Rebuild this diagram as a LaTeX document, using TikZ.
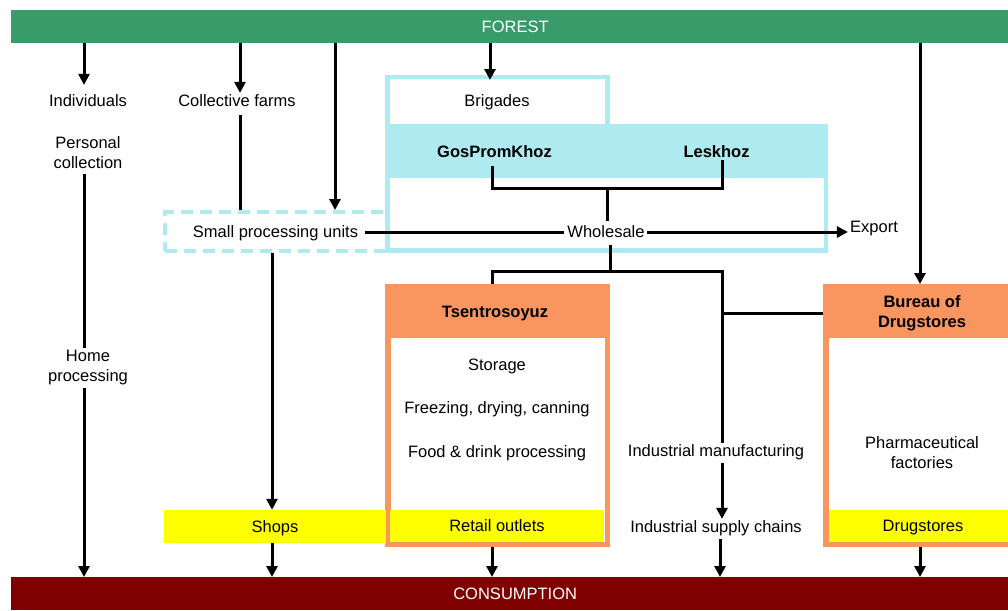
\documentclass[tikz,border=0pt]{standalone}
\usepackage{fontspec}
\setmainfont{Liberation Sans}
\usetikzlibrary{arrows.meta,calc}
\definecolor{forestg}{HTML}{389B6A}
\definecolor{consred}{HTML}{7F0000}
\definecolor{cyanb}{HTML}{AEEAF0}
\definecolor{orangeb}{HTML}{F9955F}
\definecolor{yellowb}{HTML}{FFFF00}
\begin{document}
\begin{tikzpicture}[x=1pt,y=-1pt,
 mtxt/.style={font=\fontsize{16.5}{20}\selectfont, inner sep=2pt, align=center},
 txt/.style={mtxt, text height=11.8pt, text depth=0pt},
 boldtxt/.style={txt, font=\fontsize{16.5}{20}\selectfont\bfseries},
 mbold/.style={mtxt, font=\fontsize{16.5}{20}\selectfont\bfseries},
 bar/.style={txt, text=white, minimum height=33pt, inner sep=0pt, anchor=north west, minimum width=1008pt},
 ybar/.style={txt, fill=yellowb, inner sep=0pt},
 ln/.style={line width=3pt},
 arr/.style={ln, -{Triangle[length=11pt,width=11pt]}},
 cbox/.style={draw=orangeb, line width=5.5pt, inner sep=0pt},
]
\useasboundingbox (0,0) rectangle (1008,610);
\clip (0,0) rectangle (1008,610);

% bars
\node[bar, fill=forestg] (forest) at (11,10) {FOREST};
\node[bar, fill=consred] (cons) at (11,577) {CONSUMPTION};

% dashed small processing box
\node[draw=cyanb, line width=4pt, dash pattern=on 12pt off 7pt, minimum width=222.5pt, minimum height=38.5pt, inner sep=0pt] (spubox) at (276.25,231.25) {};

% cyan organisation box
\fill[cyanb] (385.5,124) rectangle (828,178);
\draw[cyanb, line width=4.5pt] (387.5,77) -- (607.5,77) -- (607.5,126) -- (825.8,126) -- (825.8,250.5) -- (387.5,250.5) -- cycle;
\coordinate (cyantop) at (490,80);

% Tsentrosoyuz box
\fill[orangeb] (385,284) rectangle (610,338);
\node[cbox, minimum width=219.5pt, minimum height=257.5pt] (tsbox) at (497.5,415.5) {};
% Bureau box
\fill[orangeb] (823,284) rectangle (1008,338);
\node[cbox, line width=6pt, minimum width=204pt, minimum height=256.5pt] (bubox) at (928,415.25) {};

% yellow bands
\node[ybar, minimum width=222pt, minimum height=33pt] (shops) at (275,526.5) {Shops};
\node[ybar, minimum width=214pt, minimum height=32pt] (retail) at (497,526) {Retail outlets};
\node[ybar, minimum width=188pt, minimum height=32pt] (drug) at (923,526) {Drugstores};

% texts
\node[txt] (ind) at (88,101) {Individuals};
\node[mtxt] (pers) at (88,153) {Personal\\collection};
\node[mtxt] (home) at (88,368) {Home\\processing};
\node[txt] (coll) at (237,101) {Collective farms};
\node[txt] (spu) at (275.5,232) {Small processing units};
\node[txt] (brig) at (497,101) {Brigades};
\node[boldtxt] (gos) at (494.5,152) {GosPromKhoz};
\node[boldtxt] (les) at (716.5,152) {Leskhoz};
\node[txt] (wh) at (606,232) {Wholesale};
\node[txt] (exp) at (874,227) {Export};
\node[boldtxt] (ts) at (495,312) {Tsentrosoyuz};
\node[txt] (stor) at (497,365) {Storage};
\node[txt] (freez) at (497,408) {Freezing, drying, canning};
\node[txt] (food) at (497,452) {Food \& drink processing};
\node[txt] (indman) at (716,451) {Industrial manufacturing};
\node[txt] (indsup) at (716,527) {Industrial supply chains};
\node[mbold] (bur) at (922,313) {Bureau of\\Drugstores};
\node[mtxt] (pharm) at (922,453) {Pharmaceutical\\factories};

% connectors from forest
\draw[arr, shorten >=8pt] (forest.south -| 84,0) -- (ind.north -| 84,0);
\draw[arr] (forest.south -| 240,0) -- (coll.north -| 240,0);
\draw[arr] (forest.south -| 335,0) -- (spubox.north -| 335,0);
\draw[arr] (forest.south -| 490,0) -- (cyantop);
\draw[arr] (forest.south -| 920,0) -- (bubox.north -| 920,0);

% individuals column
\draw[ln, shorten <=3pt] (pers.south -| 84,0) -- (home.north -| 84,0);
\draw[arr] (home.south -| 84,0) -- (cons.north -| 84,0);

% collective farms / small processing
\draw[ln, shorten <=6pt] (coll.south -| 240,0) -- (spubox.north -| 240,0);
\draw[arr] (spubox.south -| 272,0) -- (shops.north -| 272,0);
\draw[arr] (shops.south -| 272,0) -- (cons.north -| 272,0);
\draw[ln, shorten <=5pt, shorten >=1pt] (spu.east) -- (wh.west);
\draw[arr] (wh.east) -- (exp.west |- wh.east);

% gospromkhoz / leskhoz to wholesale
\coordinate (jtop) at (607,188);
\draw[ln, shorten <=6pt] (gos.south -| 492,0) |- (jtop) -| (les.south -| 722,0);
\draw[ln, shorten >=3pt] (jtop) -- (wh.north -| jtop);

% wholesale down
\coordinate (jbot) at (610,271);
\coordinate (jind) at (722,271);
\coordinate (jbur) at (722,313);
\draw[ln, shorten <=5pt] (wh.south -| jbot) -- (jbot);
\draw[ln] (tsbox.north -| 492,0) |- (jind) -- (indman.north -| jind);
\draw[ln] (jbur) -- (jbur -| bubox.west);
\draw[arr, shorten <=4pt] (indman.south -| jind) -- (indsup.north -| jind);

% to consumption
\draw[arr] (tsbox.south -| 492,0) -- (cons.north -| 492,0);
\draw[arr, shorten <=4pt] (indsup.south -| 720,0) -- (cons.north -| 720,0);
\draw[arr] (bubox.south -| 920,0) -- (cons.north -| 920,0);
\end{tikzpicture}
\end{document}
